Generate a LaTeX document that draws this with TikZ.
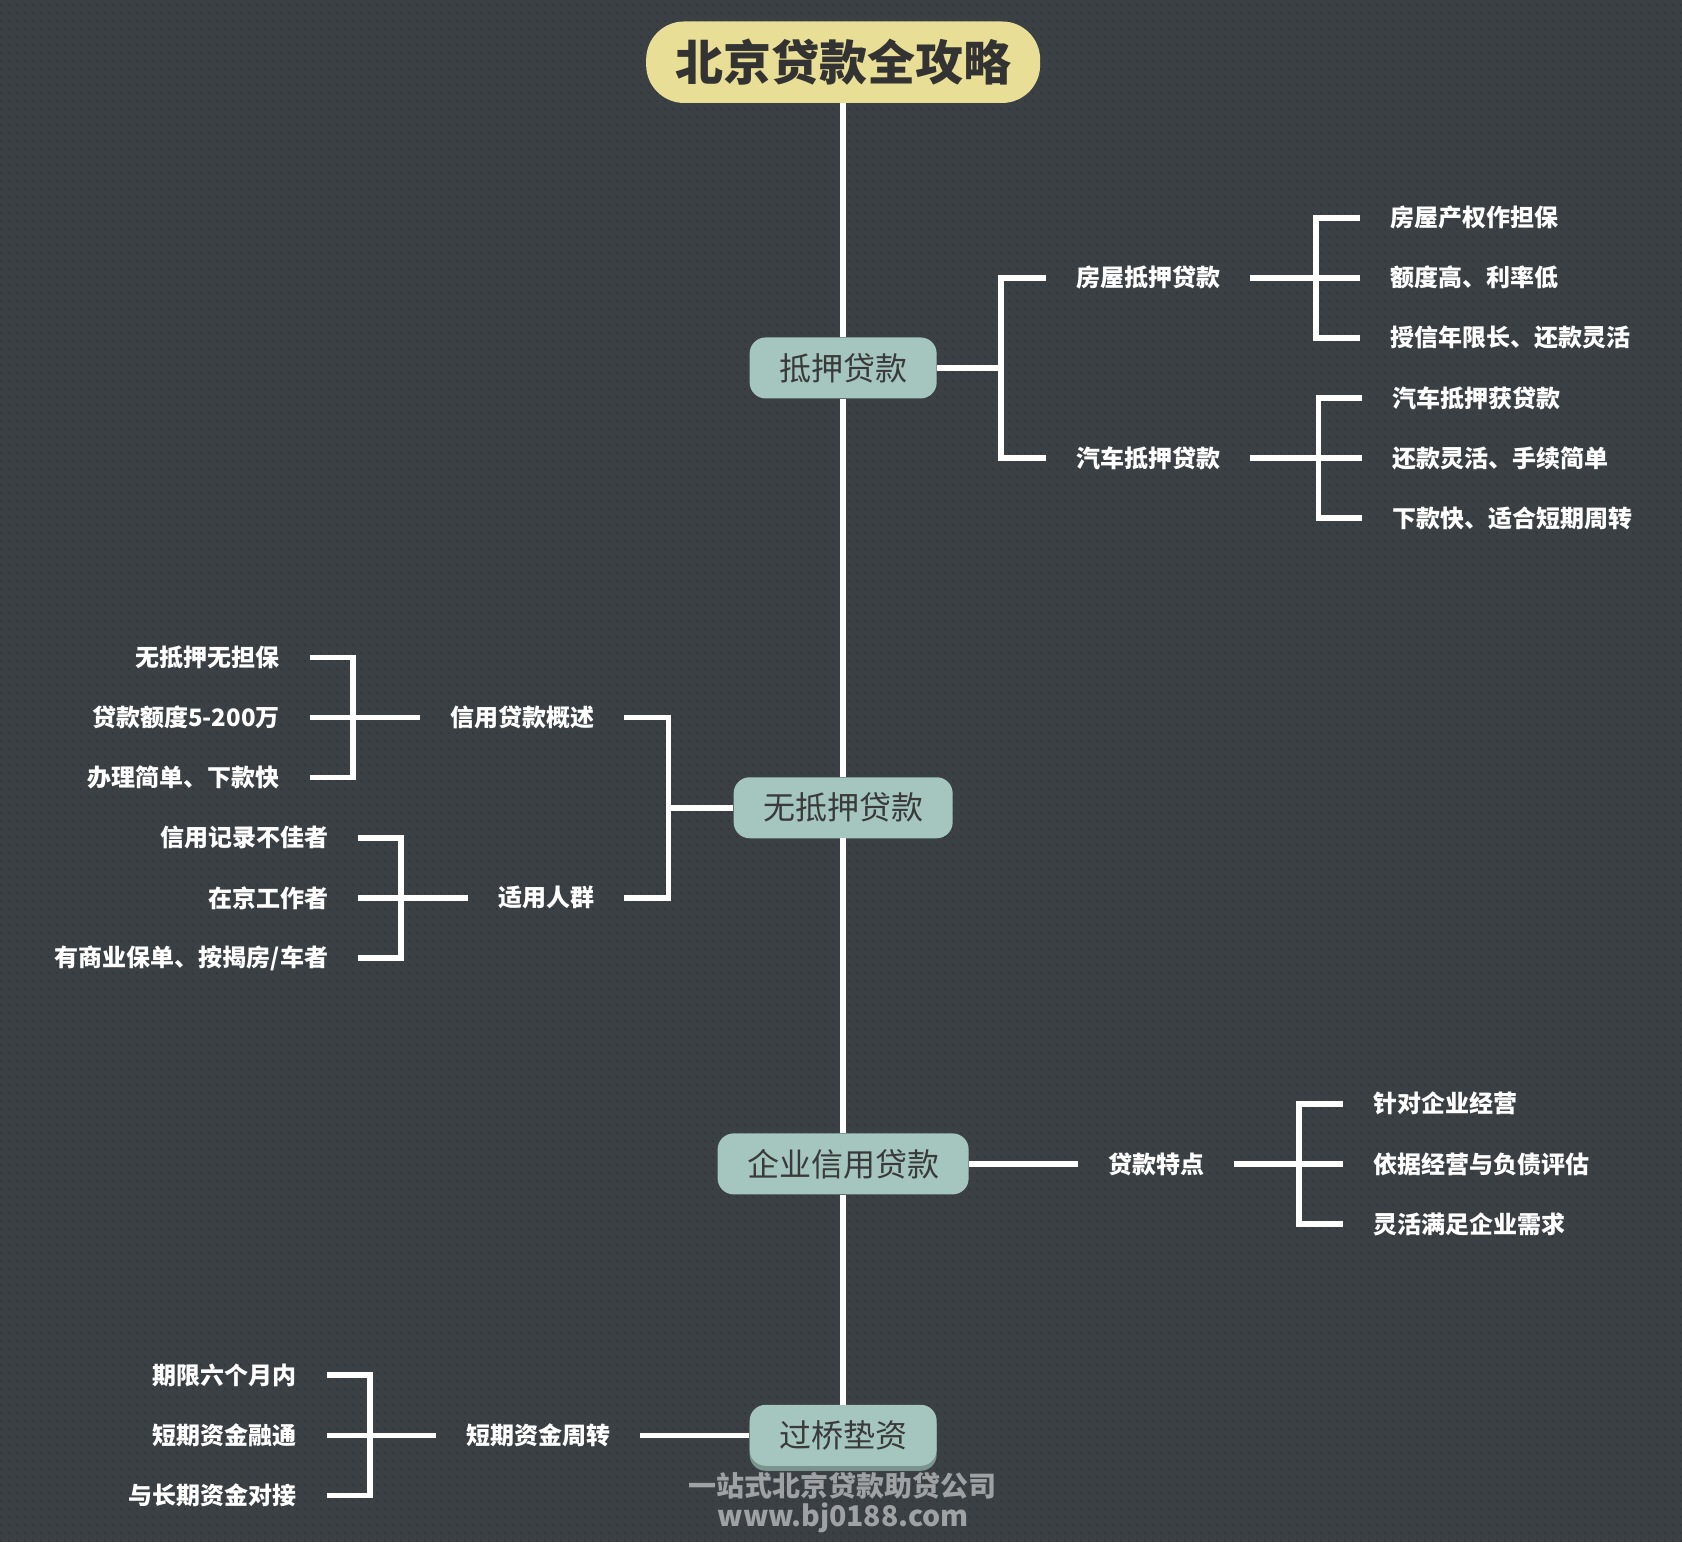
\documentclass[tikz,border=0pt]{standalone}
\usepackage{fontspec}
\newfontfamily\cjk{Noto Sans CJK SC}
\usetikzlibrary{patterns.meta,shadows}
\definecolor{bgcol}{HTML}{3A4044}
\definecolor{dotcol}{HTML}{33383C}
\definecolor{mainfill}{HTML}{A4C6BF}
\definecolor{maintext}{HTML}{3A3A3A}
\definecolor{mainshadow}{HTML}{7A948E}
\definecolor{titlefill}{HTML}{E8DE96}
\definecolor{titletext}{HTML}{333333}
\definecolor{wmcol}{HTML}{9EA2A5}
\tikzdeclarepattern{name=bgdots,type=uncolored,bottom left={(0pt,0pt)},top right={(7.5pt,7.5pt)},tile size={(7.5pt,7.5pt)},code={\fill (0pt,0pt) rectangle (2pt,2pt);}}
\begin{document}
\begin{tikzpicture}[x=1.0727pt,y=-1.0727pt,
  conn/.style={draw=white,line width=5.5pt,line join=miter},
  mainbox/.style={fill=mainfill,rounded corners=16pt,minimum height=61pt,inner xsep=29.5pt,inner ysep=0pt,text=maintext,font=\cjk\fontsize{32}{36}\selectfont},
  lab/.style={text=white,inner xsep=30pt,inner ysep=4pt,font=\cjk\bfseries\fontsize{24}{28}\selectfont},
  wm/.style={text=wmcol,inner sep=0pt,font=\cjk\bfseries\fontsize{28}{32}\selectfont}
]
\fill[bgcol] (0,0) rectangle (1568,1437.5);
\fill[pattern={bgdots},pattern color=dotcol] (0,0) rectangle (1568,1437.5);
\useasboundingbox (0,0) rectangle (1568,1437.5);

% title and main nodes
\node[fill=titlefill,rounded corners=38pt,minimum width=394pt,minimum height=81.5pt,inner sep=0pt,text=titletext,font=\cjk\bfseries\fontsize{48}{52}\selectfont] (T) at (786,58) {北京贷款全攻略};
\node[mainbox] (m1) at (786,343) {抵押贷款};
\node[mainbox] (m2) at (786,753) {无抵押贷款};
\node[mainbox] (m3) at (786,1085) {企业信用贷款};
\node[mainbox,general shadow={fill=mainshadow,shadow yshift=-5pt}] (m4) at (786,1338) {过桥垫资};

\draw[conn] (T.south) -- (m1.north);
\draw[conn] (m1.south) -- (m2.north);
\draw[conn] (m2.south) -- (m3.north);
\draw[conn] (m3.south) -- (m4.north);

% ---- 抵押贷款
\node[lab,anchor=west] (a1) at (975,259) {房屋抵押贷款};
\node[lab,anchor=west] (a2) at (975,427) {汽车抵押贷款};
\coordinate (j1) at (933,343);
\draw[conn] (m1.east) -- (j1);
\draw[conn] (a1.west) -| (j1) |- (a2.west);

\node[lab,anchor=west] (a11) at (1268,203) {房屋产权作担保};
\node[lab,anchor=west] (a12) at (1268,259) {额度高、利率低};
\node[lab,anchor=west] (a13) at (1268,315) {授信年限长、还款灵活};
\coordinate (ja1) at (1227,259);
\draw[conn] (a1.east) -- (ja1);
\draw[conn] (a11.west) -| (ja1) |- (a13.west);
\draw[conn] (ja1) -- (a12.west);

\node[lab,anchor=west] (a21) at (1270,371) {汽车抵押获贷款};
\node[lab,anchor=west] (a22) at (1270,427) {还款灵活、手续简单};
\node[lab,anchor=west] (a23) at (1270,483) {下款快、适合短期周转};
\coordinate (ja2) at (1229,427);
\draw[conn] (a2.east) -- (ja2);
\draw[conn] (a21.west) -| (ja2) |- (a23.west);
\draw[conn] (ja2) -- (a22.west);

% ---- 无抵押贷款
\node[lab,anchor=east] (b1) at (582,669) {信用贷款概述};
\node[lab,anchor=east] (b2) at (582,837) {适用人群};
\coordinate (j2) at (623,753);
\draw[conn] (m2.west) -- (j2);
\draw[conn] (b1.east) -| (j2) |- (b2.east);

\node[lab,anchor=east] (b11) at (289,613) {无抵押无担保};
\node[lab,anchor=east] (b12) at (289,669) {贷款额度5-200万};
\node[lab,anchor=east] (b13) at (289,725) {办理简单、下款快};
\coordinate (jb1) at (329,669);
\draw[conn] (b1.west) -- (jb1);
\draw[conn] (b11.east) -| (jb1) |- (b13.east);
\draw[conn] (jb1) -- (b12.east);

\node[lab,anchor=east] (b21) at (334,781) {信用记录不佳者};
\node[lab,anchor=east] (b22) at (334,837) {在京工作者};
\node[lab,anchor=east] (b23) at (334,893) {有商业保单、按揭房/车者};
\coordinate (jb2) at (374,837);
\draw[conn] (b2.west) -- (jb2);
\draw[conn] (b21.east) -| (jb2) |- (b23.east);
\draw[conn] (jb2) -- (b22.east);

% ---- 企业信用贷款
\node[lab,anchor=west] (c1) at (1005,1085) {贷款特点};
\draw[conn] (m3.east) -- (c1.west);
\node[lab,anchor=west] (c11) at (1252,1029) {针对企业经营};
\node[lab,anchor=west] (c12) at (1252,1085) {依据经营与负债评估};
\node[lab,anchor=west] (c13) at (1252,1141) {灵活满足企业需求};
\coordinate (jc1) at (1211,1085);
\draw[conn] (c1.east) -- (jc1);
\draw[conn] (c11.west) -| (jc1) |- (c13.west);
\draw[conn] (jc1) -- (c12.west);

% ---- 过桥垫资
\node[lab,anchor=east] (d1) at (597,1338) {短期资金周转};
\draw[conn] (m4.west) -- (d1.east);
\node[lab,anchor=east] (d11) at (305,1282) {期限六个月内};
\node[lab,anchor=east] (d12) at (305,1338) {短期资金融通};
\node[lab,anchor=east] (d13) at (305,1394) {与长期资金对接};
\coordinate (jd1) at (345,1338);
\draw[conn] (d1.west) -- (jd1);
\draw[conn] (d11.east) -| (jd1) |- (d13.east);
\draw[conn] (jd1) -- (d12.east);

% watermark
\node[wm] (w1) at (785,1385) {一站式北京贷款助贷公司};
\node[wm,font=\cjk\bfseries\fontsize{28.5}{32}\selectfont] (w2) at (786,1415) {www.bj0188.com};
\end{tikzpicture}
\end{document}
